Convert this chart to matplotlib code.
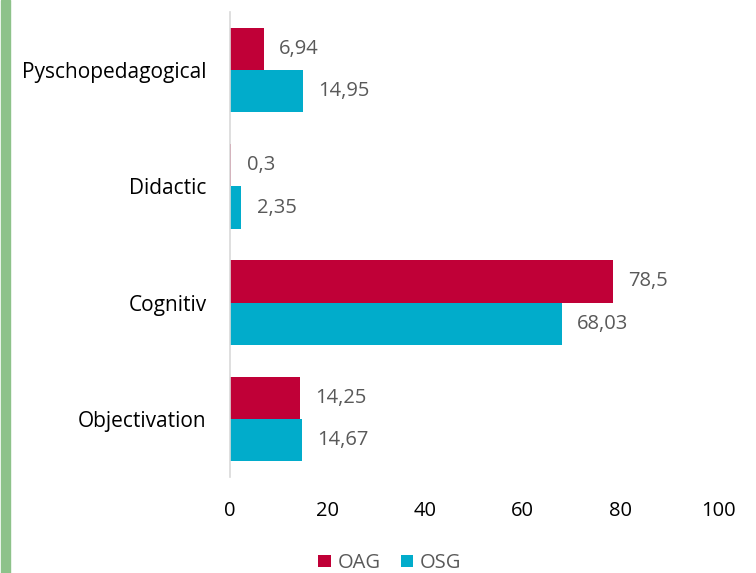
import matplotlib.pyplot as plt
import matplotlib.patches as mpatches
import numpy as np

plt.rcParams['font.family'] = ['Open Sans', 'DejaVu Sans']

# dados (de cima para baixo)
categorias = ['Pyschopedagogical', 'Didactic', 'Cognitiv', 'Objectivation']
oag = [6.94, 0.3, 78.5, 14.25]
osg = [14.95, 2.35, 68.03, 14.67]
ticks_x = [0, 20, 40, 60, 80, 100]

cor_oag = '#C00037'
cor_osg = '#01ACCB'
cinza = '#595959'
fs = 14.5

fig = plt.figure(figsize=(7.56, 5.73), dpi=100)
ax = fig.add_axes([230/756, 1-477/573, (718-230)/756, (477-12)/573])

# faixa verde na borda esquerda
fig.patches.append(mpatches.Rectangle((1/756, 0), 9/756, 1, transform=fig.transFigure,
                                      color='#8DC28A', zorder=0))

y = np.arange(len(categorias))
h = 0.364
b1 = ax.barh(y - h/2, oag, height=h, color=cor_oag, label='OAG')
b2 = ax.barh(y + h/2, osg, height=h, color=cor_osg, label='OSG')

ax.bar_label(b1, labels=[str(v).replace('.', ',') for v in oag], padding=11,
             color=cinza, fontsize=fs)
ax.bar_label(b2, labels=[str(v).replace('.', ',') for v in osg], padding=11,
             color=cinza, fontsize=fs)

ax.set_ylim(len(categorias) - 0.5, -0.5)
ax.set_xlim(0, 100)
ax.set_yticks(y)
ax.set_yticklabels(categorias, fontsize=15, color='black')
ax.set_xticks(ticks_x)
ax.set_xticklabels([str(t) for t in ticks_x], fontsize=fs, color='black')
ax.tick_params(axis='y', length=0, pad=17)
ax.tick_params(axis='x', length=0, pad=17)

for s in ['top', 'right', 'bottom']:
    ax.spines[s].set_visible(False)
ax.spines['left'].set_color('#D9D9D9')
ax.spines['left'].set_linewidth(1.2)

leg = fig.legend(handles=[b1, b2], loc='center', bbox_to_anchor=(390/756, 1-563/573),
                 ncol=2, frameon=False, fontsize=fs, handlelength=0.6, handleheight=0.6,
                 handletextpad=0.35, columnspacing=1.0)
for t in leg.get_texts():
    t.set_color(cinza)

fig.savefig('out.png', dpi=100)
